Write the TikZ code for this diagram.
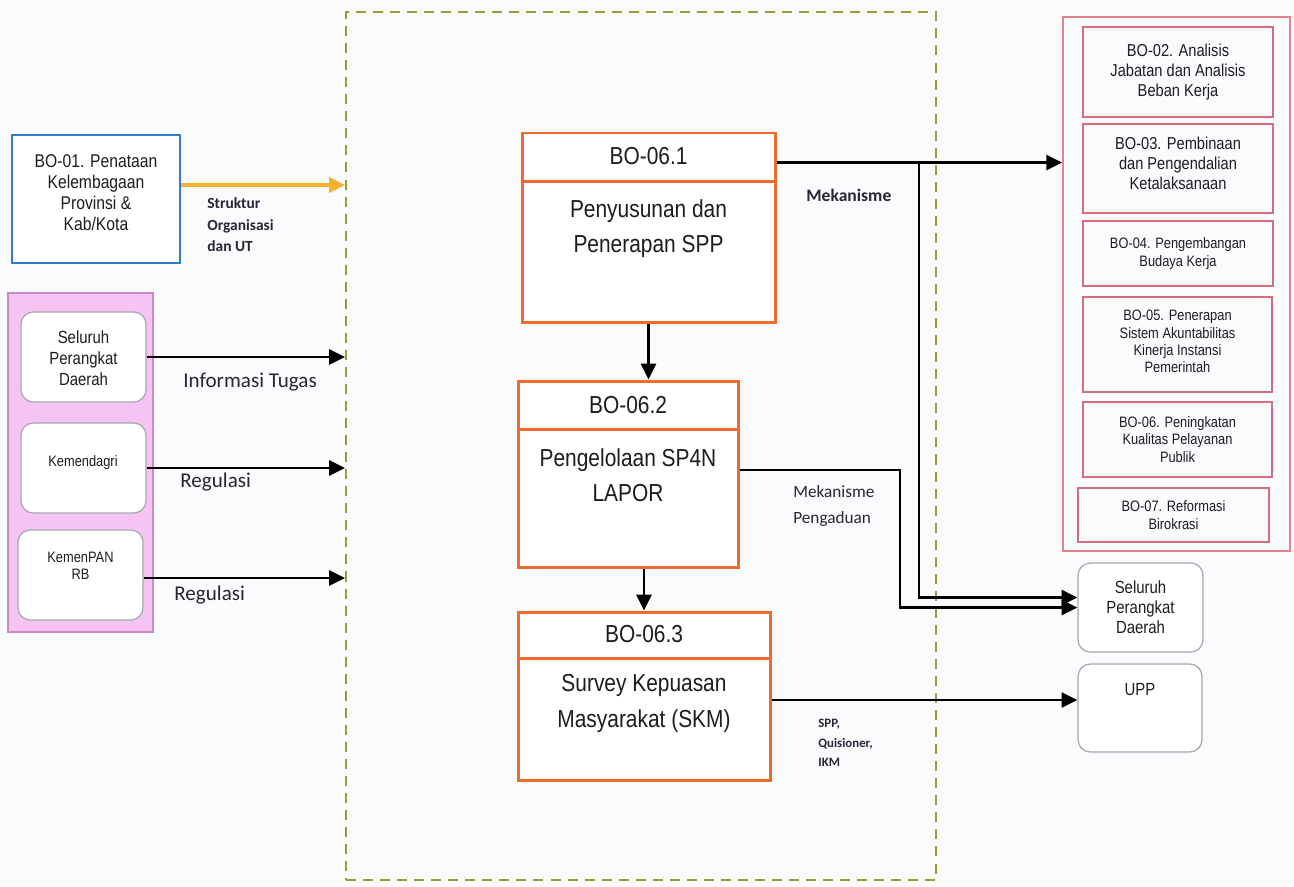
\documentclass[tikz,border=0pt]{standalone}
\usepackage{fontspec}
\setmainfont{Liberation Sans}[FakeStretch=0.85]
\newfontfamily\lblfont{Carlito}
\usetikzlibrary{arrows.meta,fit,calc}
\definecolor{bgc}{HTML}{F9FBFD}
\definecolor{orng}{HTML}{EE6B2C}
\definecolor{dashol}{HTML}{9C9C34}
\definecolor{bluebx}{HTML}{2F7DD3}
\definecolor{yelarr}{HTML}{F6B22E}
\definecolor{pinkfill}{HTML}{F6C3F3}
\definecolor{pinkedge}{HTML}{C98AC8}
\definecolor{rededge}{HTML}{E3818F}
\definecolor{redin}{HTML}{D86C7E}
\definecolor{grayedge}{HTML}{A3A9B2}
\definecolor{txt}{HTML}{1C1C22}
\definecolor{lbl}{HTML}{262636}
\begin{document}
\begin{tikzpicture}[x=0.02cm,y=-0.02cm,
  frame/.style={draw=dashol, line width=1.1pt, dash pattern=on 5.7pt off 4pt, inner sep=0pt},
  obox/.style={draw=orng, line width=1.7pt, fill=white, inner sep=0pt},
  hdr/.style={draw=orng, line width=1.7pt},
  bbox/.style={draw=bluebx, line width=1.4pt, fill=white, inner sep=0pt},
  ppanel/.style={draw=pinkedge, line width=1.1pt, fill=pinkfill, inner sep=0pt},
  rpanel/.style={draw=rededge, line width=1pt, inner sep=0pt},
  gbox/.style={draw=grayedge, line width=0.7pt, rounded corners=7pt, fill=white, inner sep=0pt},
  rbox/.style={draw=redin, line width=0.6pt, inner sep=0pt},
  arr/.style={draw=black, line width=1.5pt, -{Triangle[length=9pt,width=8.5pt]}},
  yarr/.style={draw=yelarr, line width=1.9pt, -{Triangle[length=9pt,width=8.5pt]}},
  bigtxt/.style={font=\fontsize{14}{20}\selectfont, align=center, text=txt, inner sep=0pt},
  midtxt/.style={font=\fontsize{10.5}{12}\selectfont, align=center, text=txt, inner sep=0pt},
  rtxt/.style={font=\fontsize{9.8}{11.4}\selectfont, align=center, text=txt, inner sep=0pt},
  smtxt/.style={font=\fontsize{8.6}{9.8}\selectfont, align=center, text=txt, inner sep=0pt},
  lblr/.style={font=\lblfont\fontsize{12}{14}\selectfont, text=lbl, inner sep=0pt, anchor=west},
  lblm/.style={font=\lblfont\fontsize{9.8}{14.8}\selectfont, text=lbl, inner sep=0pt, anchor=west, align=left},
  lblb/.style={font=\lblfont\bfseries\fontsize{8.8}{12.3}\selectfont, text=lbl, inner sep=0pt, anchor=west, align=left},
  lbls/.style={font=\lblfont\bfseries\fontsize{7.3}{11}\selectfont, text=lbl, inner sep=0pt, anchor=west, align=left}
]
\fill[bgc] (0,0) rectangle (1294,886);
\useasboundingbox (0,0) rectangle (1294,886);

% central dashed frame
\node[frame, fit={(346,12) (936,880)}] (frame) {};

% ---- inputs on the left ----
\node[bbox, fit={(12,135) (180,263)}] (bo1) {};
\node[midtxt] (bo1t) at (96,193) {BO-01. Penataan\\Kelembagaan\\Provinsi \&\\Kab/Kota};

\node[ppanel, fit={(8,293) (153,632)}] (pp) {};
\node[gbox, fit={(21,312) (146,402)}] (spd) {};
\node[midtxt, font=\fontsize{10}{12}\selectfont] (spdt) at (83.5,358) {Seluruh\\Perangkat\\Daerah};
\node[gbox, fit={(21,423) (146,513)}] (kmd) {};
\node[smtxt] (kmdt) at (83,463) {Kemendagri};
\node[gbox, fit={(18,530) (143,620)}] (kpan) {};
\node[smtxt] (kpant) at (80.5,566) {KemenPAN\\RB};

\coordinate (ya) at ($(bo1.east)+(0,-14)$);
\draw[yarr] (ya) -- (ya -| frame.west);
\node[lblb] (l1) at (207,225) {Struktur\\Organisasi\\dan UT};

\draw[arr] (spd.east) -- (spd.east -| frame.west);
\node[lblr] (l2) at (183,382) {Informasi Tugas};
\draw[arr] (kmd.east) -- (kmd.east -| frame.west);
\node[lblr] (l3) at (180,482) {Regulasi};
\coordinate (ka) at ($(kpan.east)+(0,3)$);
\draw[arr] (ka) -- (ka -| frame.west);
\node[lblr] (l4) at (174,595) {Regulasi};

% ---- BO-06 activities ----
\node[obox, fit={(522,133) (775,322)}] (b1) {};
\draw[hdr] ($(b1.north west)+(0,50)$) -- ($(b1.north east)+(0,50)$);
\node[bigtxt] (t1) at ($(b1.north)+(0,25)$) {BO-06.1};
\node[bigtxt] (d1) at ($(b1.north)+(0,97)$) {Penyusunan dan\\Penerapan SPP};

\node[obox, fit={(518,381) (738,567)}] (b2) {};
\draw[hdr] ($(b2.north west)+(0,50)$) -- ($(b2.north east)+(0,50)$);
\node[bigtxt] (t2) at ($(b2.north)+(0,26)$) {BO-06.2};
\node[bigtxt] (d2) at ($(b2.north)+(0,96)$) {Pengelolaan SP4N\\LAPOR};

\node[obox, fit={(518,612) (770,780)}] (b3) {};
\draw[hdr] ($(b3.north west)+(0,48)$) -- ($(b3.north east)+(0,48)$);
\node[bigtxt] (t3) at ($(b3.north)+(0,24)$) {BO-06.3};
\node[bigtxt] (d3) at ($(b3.north)+(0,93)$) {Survey Kepuasan\\Masyarakat (SKM)};

\draw[arr] (b1.south) -- (b1.south |- b2.north);
\draw[arr] (b3.north |- b2.south) -- (b3.north);

% ---- outputs on the right ----
\node[rpanel, fit={(1063,17) (1290,551)}] (rp) {};
\node[rbox, fit={(1083,27) (1273,117)}] (r2) {};
\node[rtxt] (r2t) at (r2) {BO-02. Analisis\\Jabatan dan Analisis\\Beban Kerja};
\node[rbox, fit={(1083,124) (1273,213)}] (r3) {};
\node[rtxt] (r3t) at ($(r3)+(0,-5)$) {BO-03. Pembinaan\\dan Pengendalian\\Ketalaksanaan};
\node[rbox, fit={(1083,221) (1273,286)}] (r4) {};
\node[smtxt] (r4t) at (r4) {BO-04. Pengembangan\\Budaya Kerja};
\node[rbox, fit={(1083,297) (1272,392)}] (r5) {};
\node[smtxt] (r5t) at ($(r5)+(0,-3)$) {BO-05. Penerapan\\Sistem Akuntabilitas\\Kinerja Instansi\\Pemerintah};
\node[rbox, fit={(1083,402) (1272,477)}] (r6) {};
\node[smtxt] (r6t) at (r6) {BO-06. Peningkatan\\Kualitas Pelayanan\\Publik};
\node[rbox, fit={(1078,488) (1269,542)}] (r7) {};
\node[smtxt] (r7t) at (r7) {BO-07. Reformasi\\Birokrasi};

\node[gbox, fit={(1078,563) (1203,652)}] (spd2) {};
\node[midtxt, font=\fontsize{10}{11.4}\selectfont] (spd2t) at (spd2) {Seluruh\\Perangkat\\Daerah};
\node[gbox, fit={(1078,664) (1202,752)}] (upp) {};
\node[midtxt, font=\fontsize{10}{12}\selectfont] (uppt) at (1140,690) {UPP};

% connectors to the outputs
\coordinate (m0) at ($(b1.north east)+(0,31)$);
\coordinate (jx1) at (919,0);
\coordinate (jx2) at (900,0);
\draw[arr] (m0) -- (m0 -| rp.west);
\draw[arr] (m0 -| jx1) |- ($(spd2.west)+(0,-10)$);
\node[lblb, font=\lblfont\bfseries\fontsize{10}{12}\selectfont] (l5) at (806,195) {Mekanisme};

\coordinate (m2) at ($(b2.east)+(0,-4)$);
\draw[arr] (m2) -- (m2 -| jx2) |- (spd2.west);
\node[lblm] (l6) at (793,506) {Mekanisme\\Pengaduan};

\coordinate (m3) at ($(b3.east)+(0,4)$);
\draw[arr] (m3) -- (m3 -| upp.west);
\node[lbls] (l7) at (818,743) {SPP,\\Quisioner,\\IKM};
\end{tikzpicture}
\end{document}
